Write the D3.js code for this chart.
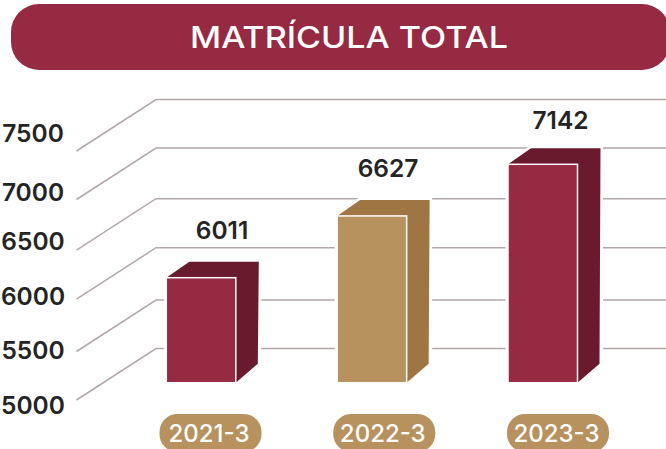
<!DOCTYPE html>
<html><head><meta charset="utf-8">
<script src="https://cdnjs.cloudflare.com/ajax/libs/d3/7.8.5/d3.min.js"></script>
<style>html,body{margin:0;padding:0;background:#fff;overflow:hidden}svg{display:block}text{font-family:Inter,"Open Sans",sans-serif}</style>
</head><body><svg id="c" width="666" height="449"></svg>
<script>
const title = "MATRÍCULA TOTAL";
const categories = ["2021-3", "2022-3", "2023-3"];
const values = [6011, 6627, 7142];
const valueLabels = ["6011", "6627", "7142"];
const ticks = [5000, 5500, 6000, 6500, 7000, 7500];
const barColors = ["#962a42", "#b7915e", "#962a42"];
const sideColors = ["#691a2c", "#a07544", "#691a2c"];

const svg = d3.select("#c");
const wine = "#962a42", gold = "#b7915e", ink = "#242424", gridCol = "#b3a8a8";

// Scales (the original artwork has slightly uneven axis spacing)
const yBar = d3.scaleLinear().domain([6011, 7142]).range([277.7, 164.3]);
const yGrid = d3.scaleLinear().domain(ticks).range([348.5, 300, 247.7, 198.7, 148, 99.5]);
const yLabel = d3.scaleLinear().domain(ticks).range([405, 350, 296, 241, 192.5, 133]);
const xBarL = d3.scalePoint().domain(categories).range([166.3, 508]);
const xPill = d3.scalePoint().domain(categories).range([210.5, 558]);
const xValue = d3.scaleOrdinal().domain(categories).range([222, 388, 560.5]);
const yValue = d3.scaleOrdinal().domain(categories).range([239, 176.7, 128.5]);
const barW = 69.5, depthX = 23, depthY = 16, baseY = 382.7;

// Title banner
svg.append("rect").attr("x", 11).attr("y", 4).attr("width", 659).attr("height", 66).attr("rx", 28).attr("fill", wine);
svg.append("text").attr("x", 349).attr("y", 47.5).attr("text-anchor", "middle")
  .attr("font-size", 30.5).attr("font-weight", 500).attr("fill", "#fff")
  .attr("textLength", 318).attr("lengthAdjust", "spacingAndGlyphs").text(title);

// Grid: side wall + back wall
svg.append("g").selectAll("path").data(ticks).join("path")
  .attr("d", t => d3.line()([[76.5, yGrid(t) + 51.5], [156, yGrid(t)], [666, yGrid(t)]]))
  .attr("fill", "none").attr("stroke", gridCol).attr("stroke-width", 1.5);

// Y labels
svg.append("g").selectAll("text").data(ticks).join("text")
  .attr("x", 33).attr("y", t => yLabel(t)).attr("dy", "0.36em").attr("text-anchor", "middle")
  .attr("font-size", 24.5).attr("font-weight", 600).attr("fill", ink).text(t => t);

// 3D bars
const bars = svg.append("g").selectAll("g").data(categories).join("g");
const pts = (i) => {
  const c = categories[i], x0 = xBarL(c), x1 = x0 + barW, t = yBar(values[i]);
  return {x0, x1, t};
};
// white halo that interrupts the grid lines
bars.append("polygon").attr("points", (c, i) => {
    const {x0, x1, t} = pts(i);
    return [[x0, t], [x0 + depthX, t - depthY], [x1 + depthX, t - depthY], [x1 + depthX, baseY - depthY - 2], [x1, baseY], [x0, baseY]].join(" ");
  }).attr("fill", "#fff").attr("stroke", "#fff").attr("stroke-width", 5);
// top and side as one dark shape
bars.append("polygon").attr("points", (c, i) => {
    const {x0, x1, t} = pts(i);
    return [[x0, t], [x0 + depthX, t - depthY], [x1 + depthX, t - depthY], [x1 + depthX - 1, baseY - depthY - 3], [x1, baseY], [x1, t]].join(" ");
  }).attr("fill", (c, i) => sideColors[i]);
bars.append("rect")
  .attr("x", (c, i) => pts(i).x0).attr("y", (c, i) => pts(i).t)
  .attr("width", barW).attr("height", (c, i) => baseY - pts(i).t)
  .attr("fill", (c, i) => barColors[i]).attr("stroke", "#fff").attr("stroke-width", 1.5);

// Value labels
bars.append("text")
  .attr("x", c => xValue(c))
  .attr("y", c => yValue(c))
  .attr("text-anchor", "middle").attr("font-size", 24.5).attr("font-weight", 600).attr("fill", ink)
  .text((c, i) => valueLabels[i]);

// Category pills
const pills = svg.append("g").selectAll("g").data(categories).join("g");
pills.append("rect").attr("x", c => xPill(c) - 51).attr("y", 414).attr("width", 102).attr("height", 38)
  .attr("rx", 18).attr("fill", gold);
pills.append("text").attr("x", c => xPill(c) - 1.5).attr("y", 441.5).attr("text-anchor", "middle")
  .attr("font-size", 24).attr("font-weight", 500).attr("fill", "#fff").text(c => c);
</script></body></html>
